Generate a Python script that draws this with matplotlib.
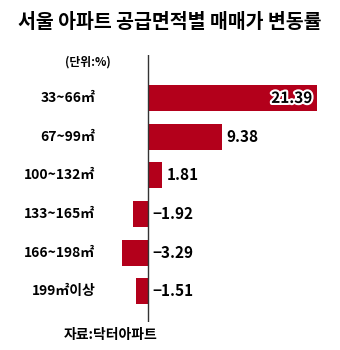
import matplotlib.pyplot as plt
import matplotlib.patheffects as pe

categories = ["33~66㎡", "67~99㎡", "100~132㎡", "133~165㎡", "166~198㎡", "199㎡이상"]
values = [21.39, 9.38, 1.81, -1.92, -3.29, -1.51]
value_labels = ["21.39", "9.38", "1.81", "−1.92", "−3.29", "−1.51"]

plt.rcParams['font.family'] = ['Noto Sans CJK KR', 'DejaVu Sans']
red = '#b3001b'

fig = plt.figure(figsize=(3.4, 3.5), dpi=100)
# zero line sits at x=148px, about 7.9 px per percent
ax = fig.add_axes([0.3309, 0.08, 0.6388, 0.763])

ypos = list(range(len(values)))
ax.barh(ypos, values, height=0.67, color=red)
ax.set_xlim(-4.5, 23)
ax.set_ylim(5.79, -1.11)
ax.axvline(0, color='#333333', lw=1)
ax.axis('off')

for y, v, lab, cat in zip(ypos, values, value_labels, categories):
    ax.text(-6.7, y, cat, ha='right', va='center', fontsize=10,
            fontweight='bold', clip_on=False)
    if v > 15:
        ax.text(v - 0.6, y, lab, ha='right', va='center', fontsize=11,
                fontweight='heavy', color='black',
                path_effects=[pe.withStroke(linewidth=3, foreground='white')])
    elif v > 0:
        ax.text(v + 0.6, y, lab, ha='left', va='center', fontsize=11,
                fontweight='heavy')
    else:
        ax.text(0.6, y, lab, ha='left', va='center', fontsize=11,
                fontweight='heavy')

fig.text(0.5, 0.937, "서울 아파트 공급면적별 매매가 변동률", ha='center', va='center',
         fontsize=14, fontweight=900)
fig.text(0.257, 0.823, "(단위:%)", ha='center', va='center', fontsize=8.5,
         fontweight='bold')
fig.text(0.326, 0.043, "자료:닥터아파트", ha='center', va='center', fontsize=10,
         fontweight='bold')

fig.savefig('out.png', dpi=100)
